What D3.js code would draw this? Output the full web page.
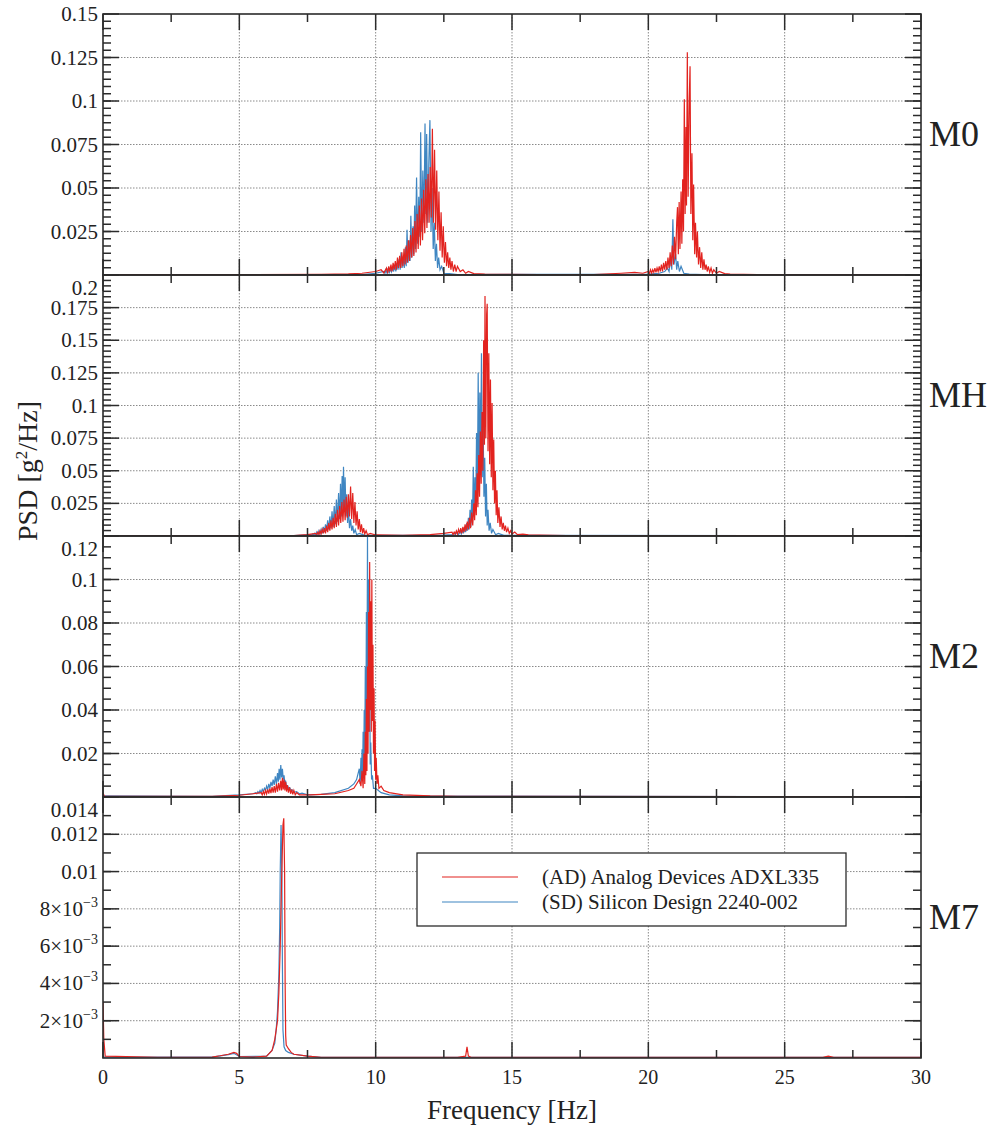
<!DOCTYPE html>
<html>
  <head>
    <meta charset="utf-8">
    <title>PSD of accelerometers</title>
    <script src="https://d3js.org/d3.v7.min.js"></script>
    <style>
      body { margin: 0; background: #fff; }
      svg { font-family: "Liberation Serif", "Times New Roman", serif; fill: #222; }
      .grid { stroke: #8a8a8a; stroke-width: 1; stroke-dasharray: 1.5, 1.5; }
      .frame { fill: none; stroke: #2b2b2b; stroke-width: 1.6; }
      .tick { stroke: #2b2b2b; stroke-width: 1.5; }
      .ad { fill: none; stroke: #e2231f; stroke-width: 1.2; }
      .sd { fill: none; stroke: #3f86c2; stroke-width: 1.2; }
    </style>
  </head>
  <body>
    <svg id="chart" width="995" height="1131"></svg>
    <script>
      // x axis
      var freqDomain = [0, 30];
      var xMajor = [0, 5, 10, 15, 20, 25, 30];
      var xMinor = [2.5, 7.5, 12.5, 17.5, 22.5, 27.5];
      var seriesNames = ["(AD) Analog Devices ADXL335", "(SD) Silicon Design 2240-002"];
      var modeNames = ["M0", "MH", "M2", "M7"];

      // y axes
      var m0Domain = [0, 0.15], m0Ticks = [0.025, 0.05, 0.075, 0.1, 0.125, 0.15];
      var m0Labels = ["0.025", "0.05", "0.075", "0.1", "0.125", "0.15"];
      var mhDomain = [0, 0.2], mhTicks = [0.025, 0.05, 0.075, 0.1, 0.125, 0.15, 0.175, 0.2];
      var mhLabels = ["0.025", "0.05", "0.075", "0.1", "0.125", "0.15", "0.175", "0.2"];
      var m2Domain = [0, 0.12], m2Ticks = [0.02, 0.04, 0.06, 0.08, 0.1, 0.12];
      var m2Labels = ["0.02", "0.04", "0.06", "0.08", "0.1", "0.12"];
      var m7Domain = [0, 0.014], m7Ticks = [0.002, 0.004, 0.006, 0.008, 0.01, 0.012, 0.014];
      var m7Labels = [["2×10", "−3"], ["4×10", "−3"], ["6×10", "−3"], ["8×10", "−3"], "0.01", "0.012", "0.014"];
      var minorSteps = [0.025 / 6, 0.025 / 6, 0.005, 0.001];

      // spectra, [frequency Hz, PSD g^2/Hz]
      var m0AD = [[0,0.0002],[5,0.0002],[8,0.0004],[9,0.0006],[9.5,0.001],[10,0.002],[10.2,0.003],[10.3,0.0012],
        [10.4,0.004],[10.44,0.001],[10.48,0.005],[10.52,0.002],[10.56,0.006],[10.6,0.002],[10.64,0.007],[10.68,0.003],[10.72,0.008],[10.76,0.003],
        [10.8,0.01],[10.84,0.004],[10.88,0.011],[10.92,0.004],[10.96,0.013],[11,0.005],[11.04,0.015],[11.08,0.006],[11.12,0.017],[11.16,0.007],
        [11.2,0.02],[11.24,0.008],[11.28,0.023],[11.32,0.01],[11.36,0.027],[11.4,0.011],[11.44,0.031],[11.48,0.013],[11.52,0.035],[11.56,0.015],
        [11.6,0.04],[11.64,0.017],[11.68,0.044],[11.72,0.02],[11.76,0.049],[11.8,0.024],[11.84,0.055],[11.88,0.027],[11.92,0.058],[11.96,0.03],
        [12,0.062],[12.04,0.033],[12.08,0.084],[12.12,0.03],[12.16,0.072],[12.2,0.026],[12.24,0.06],[12.28,0.02],[12.32,0.048],[12.36,0.014],
        [12.4,0.036],[12.44,0.01],[12.48,0.028],[12.52,0.007],[12.56,0.019],[12.6,0.005],[12.64,0.013],[12.68,0.004],[12.72,0.01],[12.76,0.003],
        [12.8,0.008],[12.85,0.002],[12.9,0.006],[12.95,0.002],[13,0.005],[13.1,0.002],[13.2,0.003],[13.3,0.001],[13.4,0.002],[13.6,0.0008],
        [14,0.0005],[16,0.0003],[18,0.0003],[19,0.001],[19.5,0.0015],[19.8,0.001],
        [20,0.002],[20.04,0.001],[20.08,0.003],[20.12,0.001],[20.16,0.003],[20.2,0.0015],[20.24,0.004],[20.28,0.0015],[20.32,0.004],[20.36,0.002],
        [20.4,0.005],[20.44,0.002],[20.48,0.006],[20.52,0.002],[20.56,0.007],[20.6,0.003],[20.64,0.008],[20.68,0.003],[20.72,0.01],[20.76,0.004],
        [20.8,0.013],[20.84,0.005],[20.88,0.017],[20.92,0.006],[20.96,0.022],[21,0.009],[21.04,0.03],[21.07,0.039],[21.1,0.012],[21.13,0.042],
        [21.16,0.015],[21.2,0.048],[21.23,0.018],[21.26,0.055],[21.29,0.025],[21.32,0.101],[21.35,0.035],[21.38,0.085],[21.4,0.04],[21.43,0.128],
        [21.46,0.045],[21.5,0.1],[21.53,0.12],[21.56,0.035],[21.6,0.07],[21.63,0.02],[21.66,0.052],[21.7,0.012],[21.73,0.03],[21.77,0.01],
        [21.8,0.025],[21.84,0.006],[21.88,0.016],[21.92,0.004],[21.96,0.013],[22,0.003],[22.04,0.009],[22.08,0.003],[22.12,0.006],[22.16,0.002],
        [22.2,0.005],[22.25,0.0015],[22.3,0.004],[22.35,0.001],[22.4,0.003],[22.5,0.001],[22.6,0.002],[22.8,0.0008],[23,0.0005],[24,0.0003],[30,0.0001]];
      var m0SD = [[0,0.0001],[8,0.0002],[9.5,0.0003],[10,0.001],
        [10.3,0.002],[10.34,0.001],[10.38,0.003],[10.42,0.001],[10.46,0.004],[10.5,0.001],[10.54,0.004],[10.58,0.002],[10.62,0.005],[10.66,0.002],
        [10.7,0.006],[10.74,0.002],[10.78,0.007],[10.82,0.003],[10.86,0.009],[10.9,0.003],[10.93,0.013],[10.97,0.004],[11.01,0.011],[11.05,0.004],
        [11.09,0.016],[11.12,0.005],[11.15,0.026],[11.19,0.007],[11.23,0.02],[11.26,0.008],[11.29,0.034],[11.33,0.01],[11.37,0.028],[11.4,0.012],
        [11.43,0.04],[11.46,0.015],[11.5,0.056],[11.54,0.018],[11.58,0.045],[11.62,0.022],[11.65,0.082],[11.69,0.025],[11.73,0.06],[11.77,0.03],
        [11.81,0.087],[11.84,0.035],[11.87,0.081],[11.91,0.03],[11.95,0.065],[11.99,0.089],[12.03,0.025],[12.07,0.05],[12.11,0.015],[12.15,0.03],
        [12.19,0.008],[12.23,0.018],[12.27,0.004],[12.31,0.01],[12.36,0.003],[12.42,0.005],[12.5,0.001],[12.7,0.0008],[13,0.0003],
        [20,0.0005],[20.4,0.001],[20.6,0.002],[20.7,0.004],[20.76,0.002],[20.82,0.01],[20.86,0.003],[20.9,0.032],[20.94,0.006],[21,0.012],
        [21.04,0.003],[21.08,0.008],[21.14,0.002],[21.2,0.005],[21.3,0.001],[21.5,0.0005],[22,0.0002],[30,0.0001]];
      var mhAD = [[0,0.0002],[7,0.0003],[7.5,0.001],
        [7.8,0.002],[7.84,0.001],[7.88,0.003],[7.92,0.001],[7.96,0.004],[8,0.0015],[8.04,0.005],[8.08,0.002],[8.12,0.006],[8.16,0.002],
        [8.2,0.008],[8.24,0.003],[8.28,0.01],[8.32,0.004],[8.36,0.012],[8.4,0.005],[8.44,0.014],[8.48,0.006],[8.52,0.017],[8.56,0.007],
        [8.6,0.02],[8.64,0.008],[8.68,0.023],[8.72,0.01],[8.76,0.026],[8.8,0.011],[8.84,0.028],[8.88,0.012],[8.92,0.03],[8.96,0.014],
        [9,0.032],[9.04,0.015],[9.08,0.038],[9.12,0.013],[9.16,0.033],[9.2,0.01],[9.24,0.026],[9.28,0.008],[9.32,0.019],[9.36,0.005],
        [9.4,0.013],[9.44,0.003],[9.48,0.009],[9.52,0.002],[9.56,0.006],[9.6,0.0015],[9.65,0.004],[9.7,0.001],[9.8,0.002],[10,0.0008],
        [11,0.0005],[12,0.001],[12.5,0.002],
        [12.8,0.003],[12.84,0.001],[12.88,0.003],[12.92,0.0015],[12.96,0.004],[13,0.0015],[13.04,0.005],[13.08,0.002],[13.12,0.006],[13.16,0.002],
        [13.2,0.007],[13.24,0.003],[13.28,0.009],[13.32,0.004],[13.36,0.011],[13.4,0.005],[13.44,0.014],[13.48,0.006],[13.52,0.018],[13.56,0.008],
        [13.6,0.025],[13.63,0.012],[13.66,0.035],[13.69,0.016],[13.72,0.048],[13.75,0.022],[13.78,0.062],[13.81,0.03],[13.84,0.08],[13.87,0.04],
        [13.9,0.095],[13.93,0.05],[13.96,0.15],[13.99,0.07],[14.01,0.184],[14.04,0.075],[14.07,0.17],[14.09,0.178],[14.12,0.065],[14.15,0.14],
        [14.18,0.055],[14.21,0.12],[14.24,0.045],[14.27,0.102],[14.3,0.035],[14.33,0.074],[14.36,0.025],[14.39,0.05],[14.42,0.016],[14.45,0.035],
        [14.48,0.01],[14.52,0.022],[14.56,0.007],[14.6,0.015],[14.64,0.005],[14.68,0.01],[14.72,0.004],[14.76,0.008],[14.8,0.003],[14.85,0.006],
        [14.9,0.002],[14.95,0.004],[15,0.0015],[15.1,0.003],[15.2,0.001],[15.4,0.0015],[15.6,0.0008],[16,0.0006],[17,0.0004],[30,0.0001]];
      var mhSD = [[0,0.0001],[7,0.0003],
        [7.6,0.001],[7.64,0.0005],[7.68,0.0015],[7.72,0.0006],[7.76,0.002],[7.8,0.0008],[7.84,0.003],[7.88,0.001],[7.92,0.004],[7.96,0.0015],
        [8,0.005],[8.04,0.002],[8.08,0.007],[8.12,0.003],[8.16,0.009],[8.2,0.004],[8.24,0.012],[8.28,0.005],[8.32,0.015],[8.36,0.006],
        [8.4,0.019],[8.44,0.007],[8.48,0.023],[8.52,0.009],[8.56,0.028],[8.6,0.011],[8.64,0.033],[8.68,0.013],[8.71,0.04],[8.74,0.015],
        [8.77,0.046],[8.8,0.018],[8.82,0.053],[8.85,0.02],[8.88,0.045],[8.91,0.015],[8.94,0.032],[8.97,0.01],[9,0.022],[9.04,0.006],
        [9.08,0.013],[9.12,0.004],[9.16,0.008],[9.2,0.002],[9.25,0.005],[9.3,0.001],[9.4,0.002],[9.6,0.0005],[12.5,0.0006],
        [12.8,0.001],[12.86,0.002],[12.92,0.001],[12.98,0.003],[13.04,0.001],[13.1,0.004],[13.14,0.0015],[13.18,0.005],[13.22,0.002],[13.26,0.007],
        [13.3,0.003],[13.34,0.01],[13.37,0.004],[13.4,0.014],[13.43,0.005],[13.46,0.02],[13.49,0.007],[13.52,0.028],[13.55,0.01],[13.58,0.053],
        [13.61,0.015],[13.64,0.045],[13.67,0.02],[13.7,0.079],[13.73,0.03],[13.76,0.125],[13.79,0.04],[13.82,0.11],[13.85,0.05],[13.88,0.14],
        [13.91,0.045],[13.94,0.09],[13.97,0.03],[14,0.06],[14.03,0.015],[14.06,0.04],[14.09,0.008],[14.12,0.02],[14.16,0.004],[14.2,0.01],
        [14.25,0.002],[14.3,0.005],[14.4,0.001],[14.5,0.002],[14.7,0.0005],[30,0.0001]];
      var m2AD = [[0,0.002],[0.05,0.0003],[4,0.0003],[5,0.0008],[5.5,0.0015],
        [5.8,0.002],[5.84,0.001],[5.88,0.0025],[5.92,0.0012],[5.96,0.003],[6,0.0014],[6.04,0.0035],[6.08,0.0016],[6.12,0.004],[6.16,0.0018],
        [6.2,0.0045],[6.24,0.002],[6.28,0.005],[6.32,0.002],[6.36,0.006],[6.4,0.0025],[6.44,0.0065],[6.48,0.003],[6.52,0.0075],[6.55,0.003],
        [6.58,0.0088],[6.61,0.0035],[6.64,0.008],[6.67,0.003],[6.7,0.007],[6.73,0.0025],[6.76,0.0055],[6.8,0.002],[6.84,0.0045],[6.88,0.0015],
        [6.92,0.0035],[6.96,0.0012],[7,0.003],[7.05,0.001],[7.1,0.002],[7.2,0.001],[7.6,0.001],[8,0.0012],[8.5,0.0015],[9,0.003],
        [9.2,0.004],[9.3,0.006],[9.4,0.008],[9.46,0.005],
        [9.5,0.012],[9.54,0.004],[9.57,0.02],[9.6,0.006],[9.62,0.03],[9.64,0.01],[9.66,0.045],[9.68,0.012],[9.7,0.06],[9.72,0.02],
        [9.74,0.085],[9.76,0.03],[9.78,0.108],[9.8,0.04],[9.82,0.09],[9.84,0.03],[9.86,0.1],[9.88,0.035],[9.9,0.07],[9.92,0.02],
        [9.94,0.05],[9.96,0.012],[9.98,0.035],[10,0.008],[10.02,0.018],[10.05,0.006],[10.08,0.01],[10.12,0.004],[10.2,0.005],[10.3,0.003],
        [10.5,0.002],[11,0.001],[12,0.0005],[13,0.0003],[30,0.0001]];
      var m2SD = [[0,0.0005],[4,0.0003],[5,0.001],[5.5,0.0015],
        [5.6,0.002],[5.64,0.0015],[5.68,0.0025],[5.72,0.0018],[5.76,0.003],[5.8,0.002],[5.84,0.0035],[5.88,0.0025],[5.92,0.004],[5.96,0.003],
        [6,0.005],[6.04,0.0035],[6.08,0.006],[6.12,0.004],[6.16,0.007],[6.2,0.005],[6.24,0.008],[6.28,0.0055],[6.32,0.0095],[6.36,0.006],
        [6.4,0.011],[6.43,0.007],[6.46,0.013],[6.49,0.008],[6.52,0.0147],[6.55,0.009],[6.58,0.013],[6.61,0.008],[6.64,0.01],[6.67,0.006],
        [6.7,0.007],[6.74,0.0045],[6.78,0.005],[6.82,0.0035],[6.86,0.004],[6.9,0.003],[6.95,0.0032],[7,0.0022],[7.1,0.0025],[7.2,0.0015],
        [7.3,0.0018],[7.5,0.001],[8,0.0012],[8.5,0.002],[9,0.004],[9.2,0.006],[9.3,0.008],
        [9.4,0.013],[9.43,0.006],[9.46,0.018],[9.48,0.008],[9.5,0.022],[9.52,0.01],[9.54,0.03],[9.56,0.012],[9.58,0.04],[9.6,0.018],
        [9.62,0.06],[9.64,0.025],[9.66,0.085],[9.68,0.04],[9.7,0.12],[9.72,0.05],[9.74,0.1],[9.76,0.03],[9.78,0.06],[9.8,0.015],
        [9.82,0.025],[9.85,0.008],[9.88,0.01],[9.92,0.004],[10,0.004],[10.2,0.002],[10.5,0.001],[11,0.0005],[30,0.0001]];
      var m7AD = [[0,0.003],[0.03,0.001],[0.08,0.0001],[2,0.00004],[4,0.00005],[4.3,0.00012],[4.6,0.0002],[4.8,0.0003],[4.9,0.00025],[5,0.00008],
        [5.5,0.00005],[6,0.0001],[6.2,0.0004],[6.3,0.001],[6.4,0.002],[6.45,0.0035],[6.5,0.006],[6.55,0.0095],[6.6,0.0125],[6.63,0.01286],
        [6.66,0.01],[6.68,0.004],[6.7,0.0012],[6.72,0.0007],[6.8,0.0005],[6.9,0.0003],[7,0.0002],[7.5,0.0001],[8,0.00004],[13,0.00004],
        [13.3,0.0001],[13.35,0.0006],[13.4,0.0001],[13.5,0.00004],[26.4,0.00004],[26.6,0.0001],[26.8,0.00004],[30,0.00003]];
      var m7SD = [[0,0.00005],[4,0.00005],[4.6,0.00018],[4.8,0.00025],[5,0.00008],[6,0.0001],[6.2,0.0004],[6.3,0.0008],[6.35,0.0015],[6.4,0.0025],
        [6.45,0.0045],[6.48,0.007],[6.5,0.01],[6.53,0.0125],[6.56,0.01],[6.58,0.005],[6.6,0.0015],[6.64,0.0006],[6.7,0.0004],[6.8,0.0003],
        [7,0.0002],[7.5,0.0001],[8,0.00004],[30,0.00003]];

      var panels = [
        { name: modeNames[0], domain: m0Domain, ticks: m0Ticks, labels: m0Labels, minor: minorSteps[0], ad: m0AD, sd: m0SD },
        { name: modeNames[1], domain: mhDomain, ticks: mhTicks, labels: mhLabels, minor: minorSteps[1], ad: mhAD, sd: mhSD },
        { name: modeNames[2], domain: m2Domain, ticks: m2Ticks, labels: m2Labels, minor: minorSteps[2], ad: m2AD, sd: m2SD },
        { name: modeNames[3], domain: m7Domain, ticks: m7Ticks, labels: m7Labels, minor: minorSteps[3], ad: m7AD, sd: m7SD }
      ];

      var svg = d3.select("#chart");
      var plotLeft = 103, plotRight = 921, plotTop = 14, plotBottom = 1058;
      var panelH = (plotBottom - plotTop) / panels.length;

      var x = d3.scaleLinear().domain(freqDomain).range([plotLeft, plotRight]);

      panels.forEach(function(p, i) {
        var y0 = plotTop + i * panelH, y1 = y0 + panelH;
        var y = d3.scaleLinear().domain(p.domain).range([y1, y0]);
        var g = svg.append("g");

        svg.append("clipPath").attr("id", "clip" + i)
          .append("rect").attr("x", plotLeft).attr("y", y0).attr("width", plotRight - plotLeft).attr("height", panelH);

        // grid
        g.selectAll(null).data(xMajor.slice(1, -1))
          .enter().append("line").attr("class", "grid")
            .attr("x1", x).attr("x2", x).attr("y1", y0).attr("y2", y1);
        g.selectAll(null).data(p.ticks.filter(function(t) { return t < p.domain[1]; }))
          .enter().append("line").attr("class", "grid")
            .attr("x1", plotLeft).attr("x2", plotRight).attr("y1", y).attr("y2", y);

        // spectra
        var line = d3.line().x(function(d) { return x(d[0]); }).y(function(d) { return y(d[1]); });
        var lines = g.append("g").attr("clip-path", "url(#clip" + i + ")");
        lines.append("path").attr("class", "sd").attr("d", line(p.sd));
        lines.append("path").attr("class", "ad").attr("d", line(p.ad));

        // y ticks both sides
        var minors = d3.range(p.minor, p.domain[1] - p.minor / 2, p.minor);
        [plotLeft, plotRight].forEach(function(edge) {
          var dir = edge === plotLeft ? 1 : -1;
          g.selectAll(null).data(minors).enter().append("line").attr("class", "tick")
            .attr("x1", edge).attr("x2", edge + dir * 8).attr("y1", y).attr("y2", y);
          g.selectAll(null).data(p.ticks).enter().append("line").attr("class", "tick")
            .attr("x1", edge).attr("x2", edge + dir * 16).attr("y1", y).attr("y2", y);
        });

        // x ticks top and bottom of each panel
        [y0, y1].forEach(function(edge) {
          var dir = edge === y0 ? 1 : -1;
          g.selectAll(null).data(xMinor).enter().append("line").attr("class", "tick")
            .attr("x1", x).attr("x2", x).attr("y1", edge).attr("y2", edge + dir * 8);
          g.selectAll(null).data(xMajor).enter().append("line").attr("class", "tick")
            .attr("x1", x).attr("x2", x).attr("y1", edge).attr("y2", edge + dir * 16);
        });

        // y tick labels, the top one of lower panels sits a little lower
        var labels = g.selectAll(null).data(p.ticks).enter().append("text")
          .attr("x", 98)
          .attr("y", function(d, k) {
            var shift = (i > 0 && k === p.ticks.length - 1) ? 13 : 0;
            return y(d) + shift + 7;
          })
          .attr("text-anchor", "end")
          .style("font-size", "21px");
        labels.each(function(d, k) {
          var lab = p.labels[k], t = d3.select(this);
          if (Array.isArray(lab)) {
            t.append("tspan").text(lab[0]);
            t.append("tspan").attr("dy", -9).style("font-size", "14px").text(lab[1]);
          } else {
            t.text(lab);
          }
        });

        // mode label
        g.append("text").attr("x", 929).attr("y", (y0 + y1) / 2 + 1)
          .style("font-size", "36px").text(p.name);

        g.append("rect").attr("class", "frame")
          .attr("x", plotLeft).attr("y", y0).attr("width", plotRight - plotLeft).attr("height", panelH);
      });

      // x tick labels
      svg.selectAll(".xlab").data(xMajor).enter().append("text")
        .attr("x", x).attr("y", 1084).attr("text-anchor", "middle")
        .style("font-size", "20px").text(function(d) { return d; });

      svg.append("text").attr("x", (plotLeft + plotRight) / 2).attr("y", 1119)
        .attr("text-anchor", "middle").style("font-size", "27px").text("Frequency [Hz]");

      var yl = svg.append("text").attr("transform", "translate(37,471) rotate(-90)")
        .attr("text-anchor", "middle").style("font-size", "28px");
      yl.append("tspan").text("PSD [g");
      yl.append("tspan").attr("dy", -10).style("font-size", "17px").text("2");
      yl.append("tspan").attr("dy", 10).text("/Hz]");

      // legend
      var lg = svg.append("g");
      lg.append("rect").attr("x", 417).attr("y", 853).attr("width", 429).attr("height", 73)
        .attr("fill", "#fff").attr("stroke", "#2b2b2b").attr("stroke-width", 1.3);
      ["ad", "sd"].forEach(function(c, k) {
        lg.append("line").attr("class", c).attr("x1", 442).attr("x2", 518)
          .attr("y1", 877 + k * 25).attr("y2", 877 + k * 25);
        lg.append("text").attr("x", 542).attr("y", 884 + k * 25)
          .style("font-size", "21px").text(seriesNames[k]);
      });
    </script>
  </body>
</html>
